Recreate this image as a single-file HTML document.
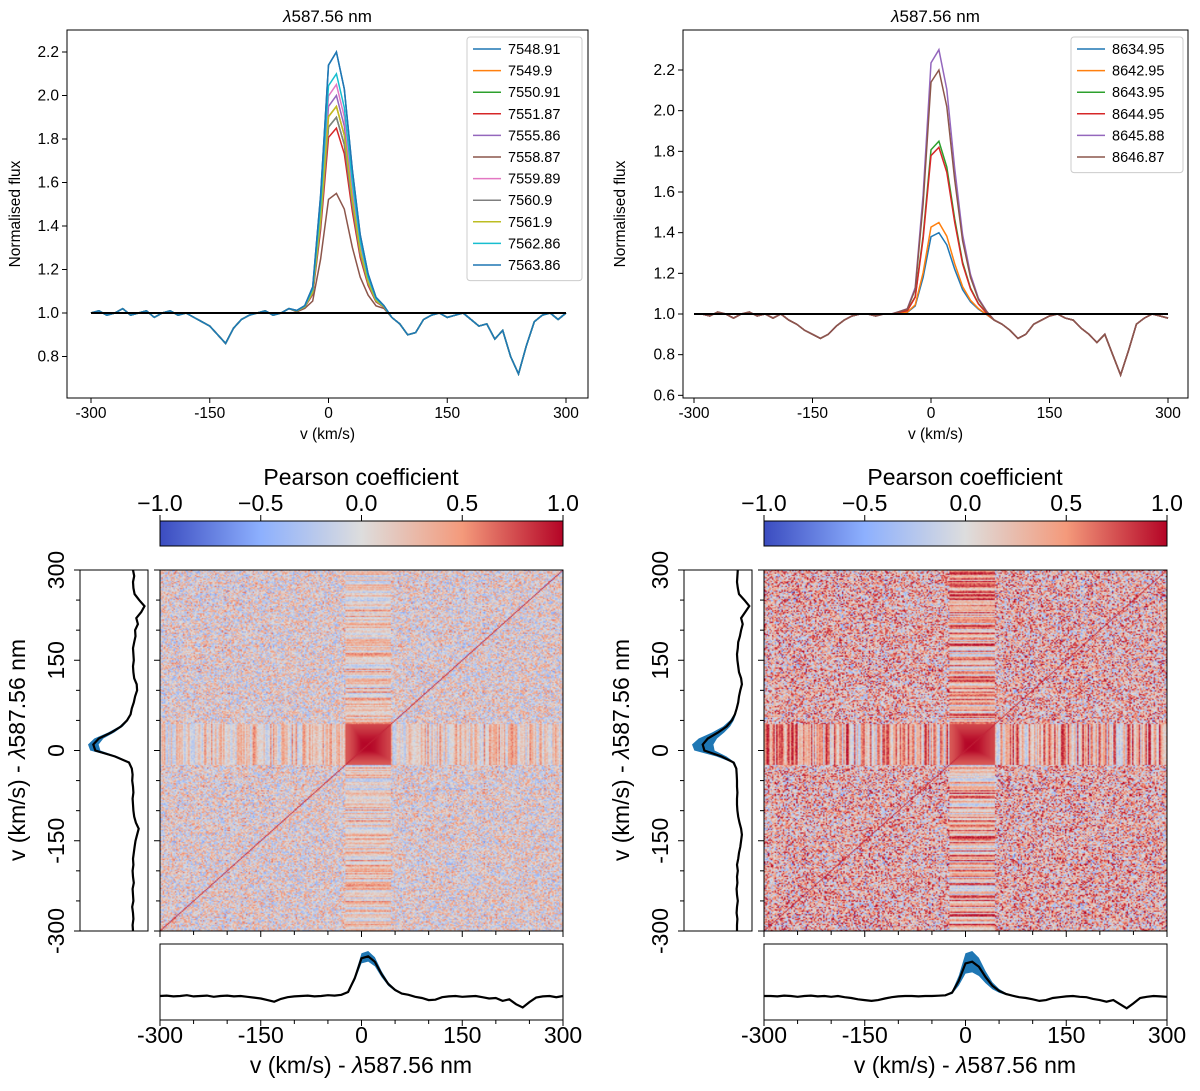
<!DOCTYPE html>
<html><head><meta charset="utf-8">
<style>
html,body{margin:0;padding:0;background:#fff;}
#wrap{position:relative;width:1200px;height:1091px;overflow:hidden;font-family:"Liberation Sans","DejaVu Sans",sans-serif;}
canvas{position:absolute;}
svg{position:absolute;left:0;top:0;}
</style></head>
<body>
<div id="wrap">
<canvas id="hmL" style="left:160px;top:570px;width:403px;height:361px" width="300" height="300"></canvas>
<canvas id="hmR" style="left:764px;top:570px;width:403px;height:361px" width="300" height="300"></canvas>
<svg id="svg" width="1200" height="1091" xmlns="http://www.w3.org/2000/svg"></svg>
</div>
<script>
// ---------- DATA ----------
const vel = [];for(let v=-300;v<=300;v+=10)vel.push(v);
const contL = [1.0,1.01,0.99,1.0,1.02,0.99,1.0,1.01,0.98,1.0,1.01,0.99,1.0,0.98,0.96,
 0.94,0.9,0.86,0.93,0.97,0.99,1.0,1.01,0.99,1.0,1.02,1.0,1.01,1.0,1.0,1.0,
 1.0,1.01,1.0,1.0,1.0,1.0,1.01,0.98,0.95,0.9,0.91,0.97,0.99,1.0,0.98,0.99,1.0,0.97,0.94,0.95,0.88,0.92,0.8,0.72,0.85,0.96,0.99,1.0,0.97,1.0];
const contR = [1.0,1.0,0.99,1.01,1.0,0.98,1.0,1.01,0.99,1.0,0.98,1.0,0.97,0.95,0.92,
 0.9,0.88,0.9,0.94,0.97,0.99,1.0,1.0,0.99,1.0,1.0,1.0,1.0,1.0,1.0,1.0,
 1.0,1.0,1.0,1.0,1.0,1.0,0.99,0.97,0.95,0.92,0.88,0.9,0.95,0.97,0.99,1.0,0.98,0.97,0.93,0.9,0.86,0.9,0.8,0.7,0.82,0.95,0.98,1.0,0.99,0.98];
const lineShape = [0,0,0,0,0,0,0,0,0,0,0,0,0,0,0,0,0,0,0,0,0,0,0,0,0,0,0.01,0.02,0.1,0.45,0.95,
 1.0,0.85,0.55,0.3,0.15,0.06,0.02,0,0,0,0,0,0,0,0,0,0,0,0,0,0,0,0,0,0,0,0,0,0,0];
const labelsL = ["7548.91","7549.9","7550.91","7551.87","7555.86","7558.87","7559.89","7560.9","7561.9","7562.86","7563.86"];
const peaksL = [1.2,0.95,0.9,0.85,1.0,0.55,1.05,0.9,0.95,1.1,1.2];
const labelsR = ["8634.95","8642.95","8643.95","8644.95","8645.88","8646.87"];
const peaksR = [0.4,0.45,0.85,0.82,1.3,1.2];
const yTicksL = [0.8,1.0,1.2,1.4,1.6,1.8,2.0,2.2];
const yTicksR = [0.6,0.8,1.0,1.2,1.4,1.6,1.8,2.0,2.2];
const xTicks = [-300,-150,0,150,300];
const cbTicks = [-1.0,-0.5,0.0,0.5,1.0];
const stdL = 0.12, stdR = 0.25;
// ---------- helpers ----------
const colors=["#1f77b4","#ff7f0e","#2ca02c","#d62728","#9467bd","#8c564b","#e377c2","#7f7f7f","#bcbd22","#17becf","#1f77b4"];
const svg=document.getElementById('svg');const NS="http://www.w3.org/2000/svg";
function el(tag,attrs,parent){const e=document.createElementNS(NS,tag);for(const k in attrs)e.setAttribute(k,attrs[k]);(parent||svg).appendChild(e);return e;}
function txt(x,y,s,size,anchor,parent,rot){const t=el('text',{x:x,y:y,'font-size':size,'text-anchor':anchor||'middle','fill':'#000'},parent);if(rot)t.setAttribute('transform',`rotate(${rot} ${x} ${y})`);t.textContent=s;return t;}
function series(cont,peak){return vel.map((v,i)=>cont[i]+peak*lineShape[i]);}
function mean(a){return a.reduce((s,x)=>s+x,0)/a.length;}

// ---------- top panels ----------
function topPanel(cfg){
  const g=el('g',{});
  
  
  const X=v=>cfg.xa+(v+300)/600*(cfg.xb-cfg.xa);
  const Y=f=>cfg.yA+(f-cfg.fA)*(cfg.yB-cfg.yA)/(cfg.fB-cfg.fA);
  cfg.peaks.forEach((p,k)=>{
    const s=series(cfg.cont,p);
    const pl=el('polyline',{points:s.map((f,i)=>X(vel[i]).toFixed(1)+','+Y(f).toFixed(1)).join(' '),fill:'none',stroke:colors[k],'stroke-width':1.5},g);
    
    
  });
  el('line',{x1:X(-300),x2:X(300),y1:Y(1),y2:Y(1),stroke:'#000','stroke-width':2},g);
  el('rect',{x:cfg.x0,y:cfg.top,width:cfg.x1-cfg.x0,height:cfg.bot-cfg.top,fill:'none',stroke:'#000','stroke-width':1},g);
  cfg.yTicks.forEach(t=>{const y=Y(t);el('line',{x1:cfg.x0-5,x2:cfg.x0,y1:y,y2:y,stroke:'#000'},g);txt(cfg.x0-8,y+5,t.toFixed(1),15.5,'end',g);});
  xTicks.forEach(t=>{const x=X(t);el('line',{x1:x,x2:x,y1:cfg.bot,y2:cfg.bot+5,stroke:'#000'},g);txt(x,cfg.bot+20,String(t),15.5,'middle',g);});
  txt((cfg.x0+cfg.x1)/2,cfg.bot+41,'v (km/s)',15.5,'middle',g);
  txt(cfg.yl,(cfg.top+cfg.bot)/2,'Normalised flux',15.5,'middle',g,-90);
  const tt=el('text',{x:(cfg.x0+cfg.x1)/2,y:22,'font-size':17,'text-anchor':'middle'},g);
  tt.innerHTML='<tspan font-style="italic">λ</tspan>587.56 nm';
  const lx=cfg.lx, ly=37, lh=21.6;
  const lg=el('g',{},g);
  
  
  el('rect',{x:lx,y:ly,width:cfg.lw,height:lh*cfg.labels.length+6,fill:'#fff',stroke:'#ccc',rx:3},lg);
  cfg.labels.forEach((l,k)=>{const y=ly+12+k*lh;
    el('line',{x1:lx+6,x2:lx+34,y1:y,y2:y,stroke:colors[k],'stroke-width':1.5},lg);
    const t=txt(lx+41,y+5,l,14.5,'start',lg);
    
    });
}
topPanel({name:'spectra-panel-left',x0:67,x1:588,xa:91,xb:566,top:30,bot:398,yA:313,fA:1.0,yB:52,fB:2.2,cont:contL,peaks:peaksL,labels:labelsL,yTicks:yTicksL,yl:20,lx:467,lw:115});
topPanel({name:'spectra-panel-right',x0:683,x1:1188,xa:694,xb:1168,top:30,bot:398,yA:314,fA:1.0,yB:70,fB:2.2,cont:contR,peaks:peaksR,labels:labelsR,yTicks:yTicksR,yl:625,lx:1071,lw:112});

// ---------- colormap ----------
const cmStops=[[-1,[59,76,192]],[-0.5,[141,176,254]],[0,[221,221,221]],[0.5,[244,154,123]],[1,[180,4,38]]];
function cmap(v){v=Math.max(-1,Math.min(1,v));for(let i=0;i<4;i++){const a=cmStops[i],b=cmStops[i+1];if(v<=b[0]){const t=(v-a[0])/(b[0]-a[0]);return a[1].map((c,j)=>Math.round(c+(b[1][j]-c)*t));}}return cmStops[4][1];}
function hash(i,j,s){let h=(i*374761393+j*668265263+s*982451653)|0;h=(h^(h>>>13))*1274126177|0;h=h^(h>>>16);return ((h>>>0)%10000)/10000;}
function lineAt(v){const i=Math.max(0,Math.min(59,Math.floor((v+300)/10)));const t=(v+300)/10-i;return lineShape[i]*(1-t)+lineShape[i+1]*t;}

function heatmap(id,seed,base,noiseAmp,rankAmp,stripeAmp,coreLo,coreHi){
  const c=document.getElementById(id),ctx=c.getContext('2d'),N=300,img=ctx.createImageData(N,N);
  const u=[];for(let i=0;i<N;i++)u.push(hash(i,7,seed)*2-1);
  const s=[];for(let i=0;i<N;i++)s.push(hash(i,13,seed+5)*2-1);
  for(let r=0;r<N;r++){const vy=300-(r+0.5)*600/N;const iny=vy>coreLo&&vy<coreHi;
    for(let col=0;col<N;col++){const vx=-300+(col+0.5)*600/N;const inx=vx>coreLo&&vx<coreHi;
      let val;
      if(inx&&iny) val=0.7+0.3*Math.min(lineAt(vx),lineAt(vy));
      else if(iny) val=base+0.1+stripeAmp*s[col]+0.15*(hash(r,col,seed+9)*2-1);
      else if(inx) val=base+0.1+stripeAmp*s[r]+0.15*(hash(r,col,seed+9)*2-1);
      else val=base+rankAmp*u[r]*u[col]+noiseAmp*(hash(r,col,seed)*2-1);
      if(Math.abs(r-(N-1-col))<1) val=0.9;
      const [R,G,B]=cmap(val);const k=(r*N+col)*4;img.data[k]=R;img.data[k+1]=G;img.data[k+2]=B;img.data[k+3]=255;}}
  ctx.putImageData(img,0,0);
}
heatmap('hmL',1,0.05,0.5,0.2,0.4,-25,45);
heatmap('hmR',2,0.25,0.7,0.5,0.6,-25,45);

// ---------- bottom panels ----------
function bottomPanel(cfg){
  const g=el('g',{});
  
  
  const hx0=cfg.hx,top=570,bot=931;
  const gid='cb'+cfg.hx;
  const defs=el('defs',{},g);const lg=el('linearGradient',{id:gid,x1:0,x2:1,y1:0,y2:0},defs);
  for(let i=0;i<=20;i++){const v=-1+i*0.1;const c=cmap(v);el('stop',{offset:(i*5)+'%','stop-color':`rgb(${c})`},lg);}
  const cb=el('rect',{x:hx0,y:521,width:403,height:25,fill:`url(#${gid})`,stroke:'#000'},g);
  
  
  cbTicks.forEach(t=>{const x=hx0+(t+1)/2*403;el('line',{x1:x,x2:x,y1:515,y2:521,stroke:'#000'},g);txt(x,511,(t<0?'−':'')+Math.abs(t).toFixed(1),23,'middle',g);});
  txt(hx0+201,485,'Pearson coefficient',23,'middle',g);
  el('rect',{x:hx0,y:top,width:403,height:bot-top,fill:'none',stroke:'#000'},g);
  const s=cfg.peaks.map(p=>series(cfg.cont,p));
  const m=vel.map((v,i)=>mean(s.map(a=>a[i])));
  const hi=vel.map((v,i)=>m[i]+cfg.std*lineShape[i]+0.01), lo=vel.map((v,i)=>m[i]-cfg.std*lineShape[i]-0.01);
  const bx=v=>hx0+(v+300)/600*403, by=f=>996-(f-1)*41;
  el('rect',{x:hx0,y:944,width:403,height:76,fill:'none',stroke:'#000'},g);
  let d='M'+vel.map((v,i)=>bx(v).toFixed(1)+','+by(hi[i]).toFixed(1)).join('L')+'L'+vel.slice().reverse().map((v,k)=>{const i=vel.length-1-k;return bx(v).toFixed(1)+','+by(lo[i]).toFixed(1);}).join('L')+'Z';
  el('path',{d:d,fill:'#1f77b4'},g);
  const bl=el('polyline',{points:vel.map((v,i)=>bx(v).toFixed(1)+','+by(m[i]).toFixed(1)).join(' '),fill:'none',stroke:'#000','stroke-width':2.2},g);
  
  
  const lx0=cfg.hx-80, ly=v=>top+(300-v)/600*(bot-top), lxf=f=>lx0+53-(f-1)*41;
  el('rect',{x:lx0,y:top,width:68,height:bot-top,fill:'none',stroke:'#000'},g);
  d='M'+vel.map((v,i)=>lxf(hi[i]).toFixed(1)+','+ly(v).toFixed(1)).join('L')+'L'+vel.slice().reverse().map((v,k)=>{const i=vel.length-1-k;return lxf(lo[i]).toFixed(1)+','+ly(v).toFixed(1);}).join('L')+'Z';
  el('path',{d:d,fill:'#1f77b4'},g);
  const ll=el('polyline',{points:vel.map((v,i)=>lxf(m[i]).toFixed(1)+','+ly(v).toFixed(1)).join(' '),fill:'none',stroke:'#000','stroke-width':2.2},g);
  
  
  for(let t=-300;t<=300;t+=50){const major=t%150===0;const x=bx(t),y=ly(t);
    el('line',{x1:x,x2:x,y1:bot,y2:bot+(major?6:4),stroke:'#000'},g);
    el('line',{x1:hx0,x2:hx0-(major?6:4),y1:y,y2:y,stroke:'#000'},g);
    el('line',{x1:lx0,x2:lx0-(major?6:4),y1:y,y2:y,stroke:'#000'},g);
    el('line',{x1:x,x2:x,y1:1020,y2:1020+(major?6:4),stroke:'#000'},g);}
  xTicks.forEach(t=>{txt(bx(t),1043,String(t),23,'middle',g);txt(lx0-16,ly(t),String(t),23,'middle',g,-90);});
  const xl=el('text',{x:hx0+201,y:1073,'font-size':23,'text-anchor':'middle'},g);xl.innerHTML='v (km/s) - <tspan font-style="italic">λ</tspan>587.56 nm';
  const yl=el('text',{x:lx0-55,y:750,'font-size':23,'text-anchor':'middle',transform:`rotate(-90 ${lx0-55} 750)`},g);yl.innerHTML='v (km/s) - <tspan font-style="italic">λ</tspan>587.56 nm';
}
bottomPanel({name:'correlation-panel-left',hx:160,cont:contL,peaks:peaksL,std:stdL});
bottomPanel({name:'correlation-panel-right',hx:764,cont:contR,peaks:peaksR,std:stdR});
</script>
</body></html>
